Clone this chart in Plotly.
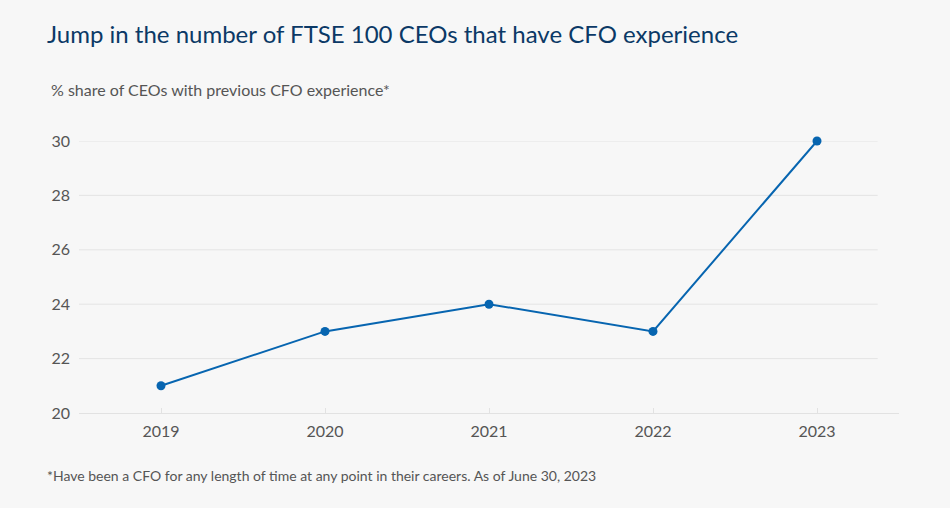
import plotly.graph_objects as go

years = ["2019", "2020", "2021", "2022", "2023"]
share = [21, 23, 24, 23, 30]
y_ticks = [20, 22, 24, 26, 28, 30]

title = "Jump in the number of FTSE 100 CEOs that have CFO experience"
subtitle = "% share of CEOs with previous CFO experience*"
footnote = "*Have been a CFO for any length of time at any point in their careers. As of June 30, 2023"

FONT = "Lato"
BLUE = "#0765b0"
GREY_TXT = "#555555"

fig = go.Figure()
fig.add_trace(go.Scatter(
    x=years, y=share, mode="lines+markers",
    line=dict(color=BLUE, width=2),
    marker=dict(color=BLUE, size=9),
    cliponaxis=False, hoverinfo="x+y", showlegend=False,
))

shapes = []
for t in y_ticks[1:]:
    shapes.append(dict(type="line", xref="paper", yref="y", x0=0, x1=0.974, y0=t, y1=t,
                       line=dict(color="#e4e4e4", width=1), layer="below"))

fig.update_layout(
    width=950, height=508,
    paper_bgcolor="#f7f7f7", plot_bgcolor="#f7f7f7",
    margin=dict(l=79, r=51, t=141, b=95),
    font=dict(family=FONT, color=GREY_TXT),
    shapes=shapes,
    xaxis=dict(
        type="category", range=[-0.5, 4.5],
        showgrid=False, showline=True, linecolor="#e2e2e2", linewidth=1,
        ticks="inside", ticklen=5, tickcolor="#e2e2e2",
        tickfont=dict(size=16, color=GREY_TXT, family=FONT),
        zeroline=False, ticklabelstandoff=4,
    ),
    yaxis=dict(
        range=[20, 30], tickvals=y_ticks, ticktext=[str(v) for v in y_ticks],
        showgrid=False, zeroline=False, showline=False,
        tickfont=dict(size=16, color=GREY_TXT, family=FONT),
        ticklabelstandoff=8,
    ),
    annotations=[
        dict(text=title, xref="paper", yref="paper", x=-(79-45)/820, y=1 + (141-33)/272,
             xanchor="left", yanchor="middle", showarrow=False,
             font=dict(size=24, color="#0b3966", family=FONT)),
        dict(text=subtitle, xref="paper", yref="paper", x=-(79-49)/820, y=1 + (141-89)/272,
             xanchor="left", yanchor="middle", showarrow=False,
             font=dict(size=16, color=GREY_TXT, family=FONT)),
        dict(text=footnote, xref="paper", yref="paper", x=-(79-45)/820, y=-(475-413)/272,
             xanchor="left", yanchor="middle", showarrow=False,
             font=dict(size=14, color=GREY_TXT, family=FONT)),
    ],
)

fig.write_html("out.html")
